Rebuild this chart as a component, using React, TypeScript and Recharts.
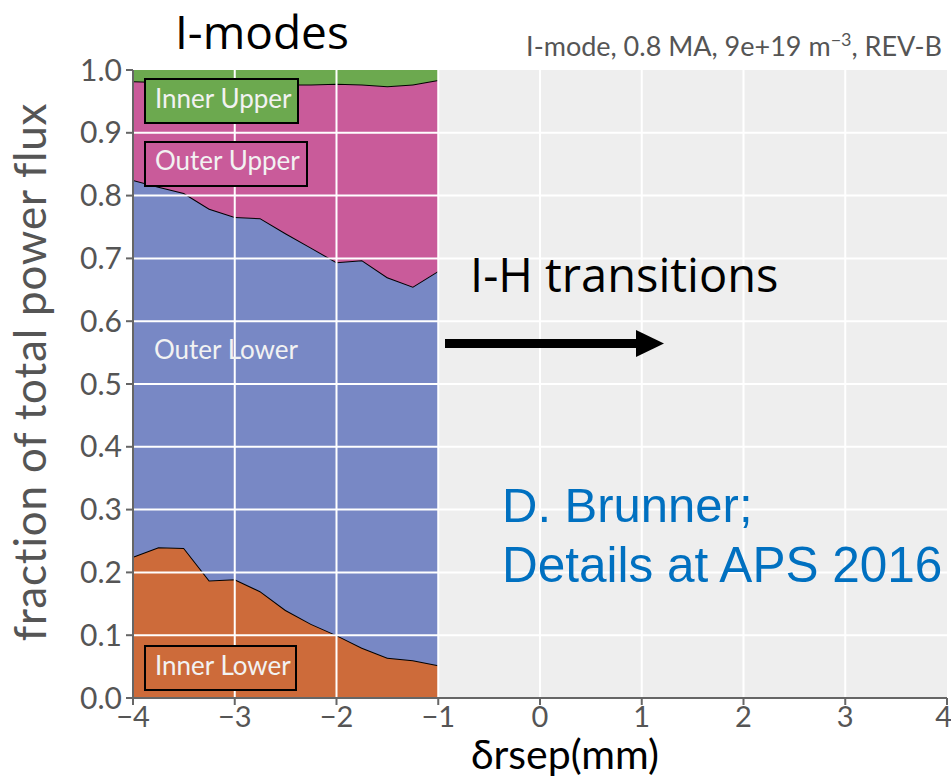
import React from 'react';
import { AreaChart, Area, XAxis, YAxis, CartesianGrid, ReferenceLine } from 'recharts';

const xValues = [-4, -3.75, -3.5, -3.25, -3, -2.75, -2.5, -2.25, -2, -1.75, -1.5, -1.25, -1];
const innerLower = [0.225, 0.240, 0.239, 0.187, 0.189, 0.170, 0.140, 0.118, 0.100, 0.080, 0.064, 0.060, 0.052];
const outerLower = [0.600, 0.574, 0.565, 0.592, 0.577, 0.594, 0.600, 0.599, 0.594, 0.617, 0.606, 0.595, 0.628];
const outerUpper = [0.157, 0.167, 0.176, 0.200, 0.212, 0.214, 0.237, 0.260, 0.284, 0.280, 0.304, 0.322, 0.304];
const innerUpper = [0.018, 0.019, 0.020, 0.021, 0.022, 0.022, 0.023, 0.023, 0.022, 0.023, 0.026, 0.023, 0.016];

const xTicks = [-4, -3, -2, -1, 0, 1, 2, 3, 4];
const yTicks = [0, 0.1, 0.2, 0.3, 0.4, 0.5, 0.6, 0.7, 0.8, 0.9, 1.0];

const data = xValues.map((x, i) => ({
  x,
  innerLower: innerLower[i],
  outerLower: outerLower[i],
  outerUpper: outerUpper[i],
  innerUpper: innerUpper[i],
}));

const C_IL = '#CD6B3A';
const C_OL = '#7888C5';
const C_OU = '#C95B9A';
const C_IU = '#6CA94F';
const MYRIAD = 'Lato, "Open Sans", sans-serif';

const fmtX = (v: number) => (v < 0 ? '\u2212' + Math.abs(v) : String(v));
const fmtY = (v: number) => v.toFixed(1);

export default function App() {
  return (
    <div style={{ position: 'absolute', left: 0, top: 0, width: 951, height: 777, background: '#fff' }}>
      <AreaChart width={951} height={777} data={data} margin={{ top: 70, right: 4, bottom: 0, left: 0 }}>
        <CartesianGrid fill="#EEEEEE" stroke="#FFFFFF" strokeWidth={2} horizontal={false} vertical={false} />
        <XAxis
          type="number"
          dataKey="x"
          domain={[-4, 4]}
          ticks={xTicks}
          tickFormatter={fmtX}
          height={79}
          tickSize={7}
          tickMargin={1}
          stroke="#666"
          strokeWidth={2}
          tick={{ fill: '#555', fontSize: 29, fontFamily: MYRIAD }}
          allowDataOverflow
        />
        <YAxis
          type="number"
          domain={[0, 1]}
          ticks={yTicks}
          tickFormatter={fmtY}
          width={133}
          tickSize={7}
          tickMargin={4}
          stroke="#666"
          strokeWidth={2}
          tick={{ fill: '#555', fontSize: 30, fontFamily: MYRIAD }}
          allowDataOverflow
        />
        <Area type="linear" dataKey="innerLower" stackId="s" fill={C_IL} fillOpacity={1} stroke="#000" strokeWidth={2} isAnimationActive={false} />
        <Area type="linear" dataKey="outerLower" stackId="s" fill={C_OL} fillOpacity={1} stroke="#000" strokeWidth={2} isAnimationActive={false} />
        <Area type="linear" dataKey="outerUpper" stackId="s" fill={C_OU} fillOpacity={1} stroke="#000" strokeWidth={2} isAnimationActive={false} />
        <Area type="linear" dataKey="innerUpper" stackId="s" fill={C_IU} fillOpacity={1} stroke="none" isAnimationActive={false} />
        {xTicks.slice(1, -1).map((t) => (
          <ReferenceLine key={'vx' + t} x={t} stroke="#FFFFFF" strokeWidth={2} />
        ))}
        {yTicks.slice(1, -1).map((t) => (
          <ReferenceLine key={'hy' + t} y={t} stroke="#FFFFFF" strokeWidth={2} />
        ))}
      </AreaChart>
      <svg width={951} height={777} style={{ position: 'absolute', left: 0, top: 0, pointerEvents: 'none' }}>
        <text x={175} y={49} fontFamily='"Open Sans", sans-serif' fontSize={46} fill="#000">I-modes</text>
        <text x={942} y={56} textAnchor="end" fontFamily={MYRIAD} fontSize={27} fill="#555">
          I-mode, 0.8 MA, 9e+19 m<tspan dy={-10} fontSize={18}>{'\u22123'}</tspan><tspan dy={10}>, REV-B</tspan>
        </text>
        <text x={470} y={292} fontFamily='"Open Sans", sans-serif' fontSize={47} fill="#000">I-H transitions</text>
        <rect x={445} y={339} width={193} height={9} fill="#000" />
        <polygon points="636,330 664,343.5 636,357" fill="#000" />
        <text x={502} y={522} fontFamily='"Liberation Sans", Arial, sans-serif' fontSize={49} fill="#0070C0">D. Brunner;</text>
        <text x={502} y={582} fontFamily='"Liberation Sans", Arial, sans-serif' fontSize={49.5} fill="#0070C0">Details at APS 2016</text>

        <rect x={145} y={79} width={153} height={44} fill={C_IU} stroke="#000" strokeWidth={2} />
        <text x={155} y={108} fontFamily={MYRIAD} fontSize={26} fill="#F2F2F2">Inner Upper</text>
        <rect x={145} y={142} width={162} height={44} fill={C_OU} stroke="#000" strokeWidth={2} />
        <text x={155} y={170} fontFamily={MYRIAD} fontSize={26} fill="#F2F2F2">Outer Upper</text>
        <text x={154} y={359} fontFamily={MYRIAD} fontSize={26} fill="#F2F2F2">Outer Lower</text>
        <rect x={145} y={646} width={151} height={44} fill={C_IL} stroke="#000" strokeWidth={2} />
        <text x={155} y={675} fontFamily={MYRIAD} fontSize={26} fill="#F2F2F2">Inner Lower</text>

        <text x={565} y={769} textAnchor="middle" fontFamily={MYRIAD} fontSize={41} fill="#000">{'\u03b4rsep(mm)'}</text>
        <text transform="translate(46,372) rotate(-90)" textAnchor="middle" fontFamily={MYRIAD} fontSize={44} letterSpacing={0.8} fill="#555">fraction of total power flux</text>
      </svg>
    </div>
  );
}
